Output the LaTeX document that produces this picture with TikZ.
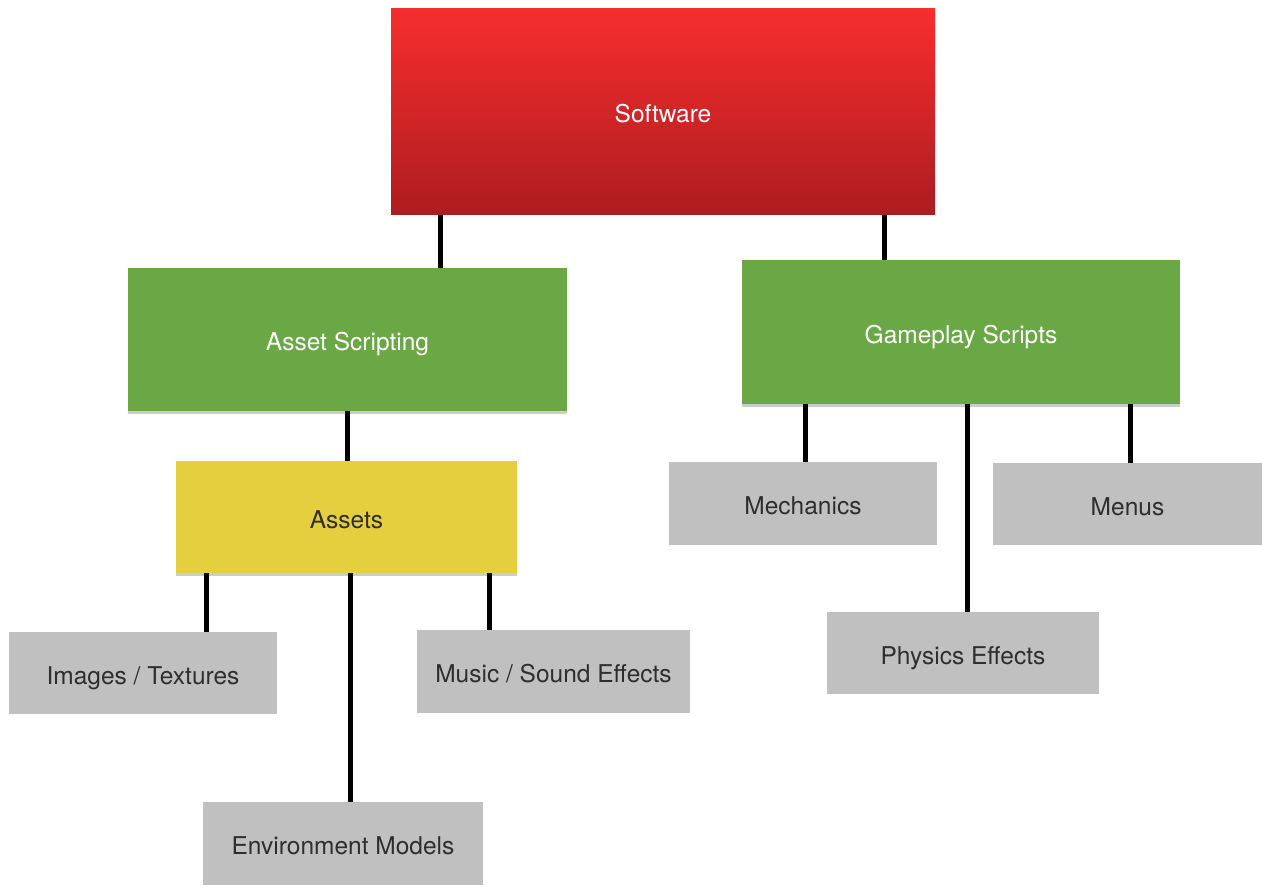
\documentclass[tikz,border=0pt]{standalone}
\usepackage{fontspec}
\setmainfont{TeX Gyre Heros}
\usetikzlibrary{shadows,backgrounds}
\definecolor{redtop}{HTML}{F62E2E}
\definecolor{redbot}{HTML}{AE1C20}
\definecolor{grassgreen}{HTML}{6AA845}
\definecolor{sandyellow}{HTML}{E4D03E}
\definecolor{boxgray}{HTML}{C0C0C0}
\definecolor{txtgray}{HTML}{2E2E2E}
\tikzset{
  box/.style={rectangle, inner sep=0pt, font=\fontsize{24.5}{28}\selectfont,
     text height=24pt, text depth=2pt},
  redbox/.style={box, top color=redtop, bottom color=redbot, text=white},
  greenbox/.style={box, fill=grassgreen, text=white,
     drop shadow={shadow xshift=0pt, shadow yshift=-3pt, opacity=0.2, fill=black}},
  yellowbox/.style={box, fill=sandyellow, text=txtgray,
     drop shadow={shadow xshift=0pt, shadow yshift=-3pt, opacity=0.2, fill=black}},
  graybox/.style={box, fill=boxgray, text=txtgray},
  link/.style={line width=5pt, black}
}
\begin{document}
\begin{tikzpicture}[x=1pt,y=-1pt]
\useasboundingbox (0,0) rectangle (1262,886);

\node[redbox, minimum width=544pt, minimum height=206pt] (sw) at (663,111) {Software};
\node[greenbox, minimum width=439pt, minimum height=143pt] (as) at (347.5,339.5) {Asset Scripting};
\node[greenbox, minimum width=438pt, minimum height=144pt] (gs) at (961,332) {Gameplay Scripts};
\node[yellowbox, minimum width=341pt, minimum height=112pt] (assets) at (346.5,517) {Assets};
\node[graybox, minimum width=268pt, minimum height=83pt] (mech) at (803,503.5) {Mechanics};
\node[graybox, minimum width=269pt, minimum height=82pt] (menus) at (1127.5,504) {Menus};
\node[graybox, minimum width=272pt, minimum height=82pt] (phys) at (963,653) {Physics Effects};
\node[graybox, minimum width=268pt, minimum height=82pt] (img) at (143,673) {Images / Textures};
\node[graybox, minimum width=273pt, minimum height=83pt] (music) at (553.5,671.5) {Music / Sound Effects};
\node[graybox, minimum width=280pt, minimum height=83pt] (env) at (343,843.5) {Environment Models};

\begin{scope}[on background layer]
\fill[white] (0,0) rectangle (1262,886);
\draw[link] ([xshift=-223pt]sw.south) -- ([xshift=-223pt]sw.south |- as.north);
\draw[link] ([xshift=221pt]sw.south) -- ([xshift=221pt]sw.south |- gs.north);
\draw[link] (as.south) -- (as.south |- assets.north);
\draw[link] ([xshift=-140pt]assets.south) -- ([xshift=-140pt]assets.south |- img.north);
\draw[link] ([xshift=4pt]assets.south) -- ([xshift=4pt]assets.south |- env.north);
\draw[link] ([xshift=143pt]assets.south) -- ([xshift=143pt]assets.south |- music.north);
\draw[link] ([xshift=-156pt]gs.south) -- ([xshift=-156pt]gs.south |- mech.north);
\draw[link] ([xshift=6pt]gs.south) -- ([xshift=6pt]gs.south |- phys.north);
\draw[link] ([xshift=169pt]gs.south) -- ([xshift=169pt]gs.south |- menus.north);
\end{scope}
\end{tikzpicture}
\end{document}
